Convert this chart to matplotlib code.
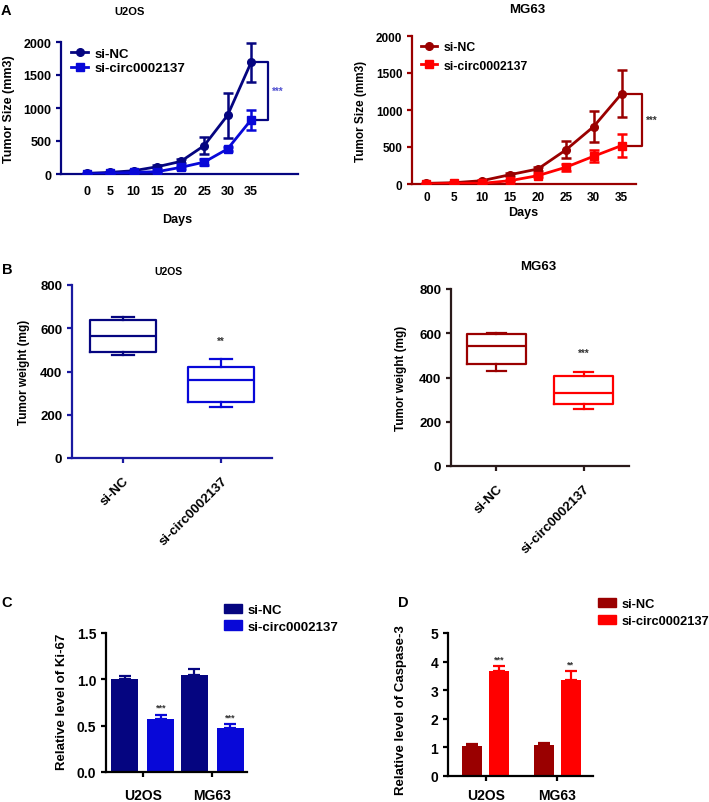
import matplotlib.pyplot as plt
from matplotlib.lines import Line2D
from matplotlib.patches import Patch

plt.rcParams["font.family"] = ["Liberation Sans", "DejaVu Sans"]
plt.rcParams["font.weight"] = "bold"
plt.rcParams["axes.labelweight"] = "bold"

NAVY = "#050580"
BLUE = "#0808d8"
MAROON = "#9a0000"
RED = "#ff0000"

W, H = 709, 803

# panel A: tumor growth
days = [0, 5, 10, 15, 20, 25, 30, 35]
u2os_nc = [10, 25, 50, 110, 190, 430, 890, 1690]
u2os_nc_err = [5, 10, 15, 25, 30, 130, 340, 290]
u2os_si = [0, 10, 25, 35, 100, 180, 380, 820]
u2os_si_err = [0, 5, 10, 10, 25, 40, 30, 150]
mg63_nc = [9, 18, 45, 126, 203, 460, 776, 1219]
mg63_nc_err = [5, 8, 12, 20, 25, 115, 210, 320]
mg63_si = [0, 9, 9, 45, 113, 226, 375, 519]
mg63_si_err = [0, 5, 5, 10, 20, 50, 80, 150]

# panel B: tumor weight (min, q1, median, q3, max)
groups = ["si-NC", "si-circ0002137"]
u2os_w_nc = [478, 492, 563, 638, 654]
u2os_w_si = [235, 258, 362, 423, 458]
mg63_w_nc = [430, 463, 544, 595, 601]
mg63_w_si = [256, 280, 332, 406, 427]

# panels C, D: relative levels
cell_lines = ["U2OS", "MG63"]
ki67_nc = [1.00, 1.048]
ki67_nc_err = [0.04, 0.065]
ki67_si = [0.571, 0.48]
ki67_si_err = [0.047, 0.037]
ki67_stars = ["***", "***"]
casp_nc = [1.04, 1.08]
casp_nc_err = [0.09, 0.09]
casp_si = [3.66, 3.34]
casp_si_err = [0.17, 0.33]
casp_stars = ["***", "**"]


def box(x0, y0, x1, y1):
    # pixel box (top-left origin) -> figure fraction rect
    return [x0 / W, 1 - y1 / H, (x1 - x0) / W, (y1 - y0) / H]


def ftext(x, y, s, **kw):
    fig.text(x / W, 1 - y / H, s, ha="center", va="center", **kw)


def style_axes(ax, color, fs):
    for side in ["top", "right"]:
        ax.spines[side].set_visible(False)
    for side in ["left", "bottom"]:
        ax.spines[side].set_color(color)
        ax.spines[side].set_linewidth(1.6)
    ax.tick_params(colors=color, labelcolor="black", width=1.6, length=3.5,
                   labelsize=fs)


def growth_panel(ax, nc, nc_err, si, si_err, c_nc, c_si, axis_color, xlim,
                 fs, legfs, star_color, xpad, legspace):
    ax.errorbar(days, nc, yerr=nc_err, color=c_nc, marker="o", ms=5.5,
                lw=2, elinewidth=1.8, capsize=3.5, capthick=1.8, zorder=3)
    ax.errorbar(days, si, yerr=si_err, color=c_si, marker="s", ms=5.5,
                lw=2, elinewidth=1.8, capsize=3.5, capthick=1.8, zorder=3)
    ax.set_xlim(*xlim)
    ax.set_ylim(0, 2000)
    ax.set_xticks(days)
    ax.set_yticks([0, 500, 1000, 1500, 2000])
    style_axes(ax, axis_color, fs)
    ax.tick_params(axis="x", length=0, pad=xpad)
    # significance bracket between final points
    xb0, xb1 = days[-1] + 0.8, days[-1] + 3.6
    ax.plot([xb0, xb1, xb1, xb0], [nc[-1], nc[-1], si[-1], si[-1]],
            color=c_nc, lw=1.6, clip_on=False)
    ax.text(xb1 + 0.8, (nc[-1] + si[-1]) / 2, "***", color=star_color,
            fontsize=7, ha="left", va="center")
    handles = [
        Line2D([], [], color=c_nc, marker="o", ms=5.5, lw=2),
        Line2D([], [], color=c_si, marker="s", ms=5.5, lw=2),
    ]
    ax.legend(handles, groups, loc="upper left", bbox_to_anchor=(0.02, 1.0),
              frameon=False, fontsize=legfs, handlelength=1.3,
              handletextpad=0.5, labelspacing=legspace, borderaxespad=0)


def weight_panel(ax, nc, si, c_nc, c_si, axis_color, star, fs):
    stats = []
    for vals in (nc, si):
        lo, q1, med, q3, hi = vals
        stats.append(dict(whislo=lo, q1=q1, med=med, q3=q3, whishi=hi,
                          fliers=[]))
    art = ax.bxp(stats, positions=[0, 1], widths=0.68, capwidths=0.22,
                 showfliers=False, patch_artist=False)
    for i, c in enumerate((c_nc, c_si)):
        art["boxes"][i].set(color=c, lw=1.6)
        art["medians"][i].set(color=c, lw=1.6)
        for j in (2 * i, 2 * i + 1):
            art["whiskers"][j].set(color=c, lw=1.6)
            art["caps"][j].set(color=c, lw=1.6)
    ax.text(1, si[-1] + 85, star, fontsize=7, ha="center", va="center",
            color="#333333")
    ax.set_xlim(-0.52, 1.52)
    ax.set_ylim(0, 800)
    ax.set_yticks([0, 200, 400, 600, 800])
    ax.set_xticks([0, 1])
    ax.set_xticklabels(groups, rotation=45, ha="right",
                       rotation_mode="anchor")
    style_axes(ax, axis_color, fs)
    ax.tick_params(axis="x", pad=8)


def level_panel(ax, nc, nc_err, si, si_err, stars, c_nc, c_si, width, off,
                ymax, yticks, fs, legfs, leg_anchor, xpad):
    x = list(range(len(cell_lines)))
    xn = [v - off for v in x]
    xs = [v + off for v in x]
    ax.bar(xn, nc, width=width, color=c_nc, zorder=2)
    ax.bar(xs, si, width=width, color=c_si, zorder=2)
    ax.errorbar(xn, nc, yerr=[[0] * len(nc), nc_err], fmt="none",
                ecolor=c_nc, elinewidth=1.6, capsize=4, capthick=1.6)
    ax.errorbar(xs, si, yerr=[[0] * len(si), si_err], fmt="none",
                ecolor=c_si, elinewidth=1.6, capsize=4, capthick=1.6)
    for xi, v, e, s in zip(xs, si, si_err, stars):
        ax.text(xi, v + e + ymax * 0.02, s, fontsize=6.5, ha="center",
                va="bottom", color="#333333")
    ax.set_xlim(-0.53, 1.5)
    ax.set_ylim(0, ymax)
    ax.set_yticks(yticks)
    ax.set_xticks(x)
    ax.set_xticklabels(cell_lines)
    style_axes(ax, "black", fs)
    ax.tick_params(axis="x", pad=xpad)
    handles = [Patch(color=c_nc), Patch(color=c_si)]
    ax.legend(handles, groups, loc="upper left", bbox_to_anchor=leg_anchor,
              frameon=False, fontsize=legfs, handlelength=1.35,
              handleheight=0.7, handletextpad=0.45, labelspacing=0.35,
              borderaxespad=0)


fig = plt.figure(figsize=(W / 100, H / 100), dpi=100)

# A
ax1 = fig.add_axes(box(61, 43, 298, 175))
growth_panel(ax1, u2os_nc, u2os_nc_err, u2os_si, u2os_si_err, NAVY, BLUE,
             NAVY, (-5.5, 45), 9, 9.5, "#5050d0", 8, 0.2)
ax2 = fig.add_axes(box(412, 37, 636, 185))
growth_panel(ax2, mg63_nc, mg63_nc_err, mg63_si, mg63_si_err, MAROON, RED,
             MAROON, (-2.6, 37.6), 8.5, 8.8, "#333333", 5, 0.55)
ftext(6, 11, "A", fontsize=10.5)
ftext(130, 12, "U2OS", fontsize=8)
ftext(527, 10, "MG63", fontsize=9.5)
ftext(9, 109, "Tumor Size (mm3)", fontsize=9, rotation=90)
ftext(361, 111, "Tumor Size (mm3)", fontsize=8.5, rotation=90)
ftext(177, 220, "Days", fontsize=9)
ftext(523, 213, "Days", fontsize=9)

# B
ax3 = fig.add_axes(box(72, 286, 272, 459))
weight_panel(ax3, u2os_w_nc, u2os_w_si, NAVY, BLUE, "#1a1aa0", "**", 9.5)
ax4 = fig.add_axes(box(451, 290, 629, 467))
weight_panel(ax4, mg63_w_nc, mg63_w_si, MAROON, RED, "#2a1a1a", "***", 9.5)
ftext(7, 270, "B", fontsize=10.5)
ftext(168, 272, "U2OS", fontsize=7.5)
ftext(538, 267, "MG63", fontsize=9.5)
ftext(24, 372, "Tumor weight (mg)", fontsize=8.5, rotation=90)
ftext(401, 378, "Tumor weight (mg)", fontsize=8.5, rotation=90)

# C
ax5 = fig.add_axes(box(106, 634, 247, 773))
level_panel(ax5, ki67_nc, ki67_nc_err, ki67_si, ki67_si_err, ki67_stars,
            NAVY, BLUE, 0.39, 0.26, 1.5, [0.0, 0.5, 1.0, 1.5], 10, 9.5,
            (0.8, 1.25), 8)
ax5.set_yticklabels(["0.0", "0.5", "1.0", "1.5"])
ftext(7, 603, "C", fontsize=10.5)
ftext(62, 702, "Relative level of Ki-67", fontsize=9.5, rotation=90)

# D
ax6 = fig.add_axes(box(448, 634, 593, 777))
level_panel(ax6, casp_nc, casp_nc_err, casp_si, casp_si_err, casp_stars,
            MAROON, RED, 0.28, 0.19, 5, [0, 1, 2, 3, 4, 5], 10, 9.3,
            (1.0, 1.28), 5)
ftext(403, 603, "D", fontsize=10.5)
ftext(401, 710, "Relative level of Caspase-3", fontsize=9.5, rotation=90)

fig.savefig("out.png", dpi=100)
